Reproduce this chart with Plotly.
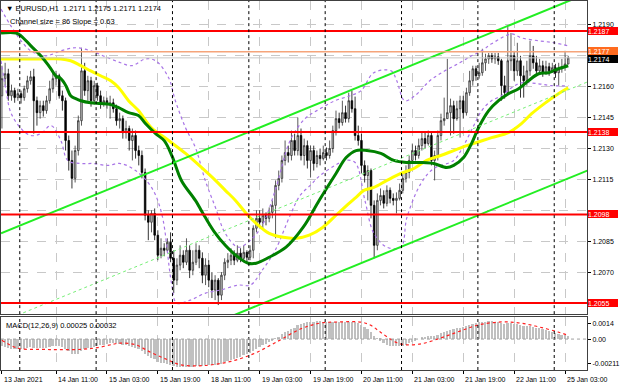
import plotly.graph_objects as go
import pandas as pd

# ---------------- data ----------------
times = pd.date_range("2021-01-13 18:00", "2021-01-25 04:00", freq="h")
times = times[times.dayofweek < 5]
idx = list(range(len(times)))

close = [1.21639,1.21663,1.21556,1.21581,1.21547,1.21566,1.21547,1.21590,1.21629,1.21648,
         1.21532,1.21474,1.21508,1.21484,1.21532,1.21590,1.21639,1.21653,1.21556,1.21532,
         1.21339,1.21242,1.21155,1.21290,1.21435,1.21677,1.21581,1.21629,1.21532,1.21605,
         1.21556,1.21518,1.21532,1.21513,1.21522,1.21493,1.21435,1.21445,1.21377,1.21397,
         1.21339,1.21363,1.21290,1.21266,1.21184,1.20976,1.20942,1.20985,1.20879,1.20782,
         1.20816,1.20806,1.20845,1.20767,1.20661,1.20734,1.20782,1.20748,1.20806,1.20709,
         1.20748,1.20806,1.20767,1.20685,1.20734,1.20661,1.20613,1.20661,1.20588,1.20685,
         1.20748,1.20758,1.20782,1.20758,1.20792,1.20767,1.20796,1.20772,1.20806,1.20913,
         1.20961,1.20942,1.20976,1.20961,1.20990,1.21024,1.21121,1.21155,1.21242,1.21280,
         1.21266,1.21339,1.21290,1.21363,1.21266,1.21314,1.21242,1.21290,1.21227,1.21266,
         1.21251,1.21280,1.21266,1.21300,1.21387,1.21445,1.21426,1.21474,1.21445,1.21532,
         1.21493,1.21363,1.21339,1.21218,1.21169,1.21193,1.21024,1.20830,1.21048,1.21072,
         1.21034,1.21097,1.21058,1.21048,1.21058,1.21097,1.21155,1.21184,1.21242,1.21290,
         1.21266,1.21314,1.21348,1.21324,1.21363,1.21242,1.21266,1.21363,1.21435,1.21445,
         1.21474,1.21508,1.21445,1.21493,1.21532,1.21474,1.21571,1.21629,1.21687,1.21653,
         1.21668,1.21716,1.21735,1.21750,1.21735,1.21745,1.21726,1.21605,1.21571,1.21726,
         1.21750,1.21677,1.21726,1.21653,1.21629,1.21677,1.21750,1.21716,1.21677,1.21702,
         1.21668,1.21697,1.21677,1.21692,1.21668,1.21687,1.21697,1.21710,1.21740]

open_ = [1.21556,1.21639,1.21663,1.21556,1.21581,1.21547,1.21566,1.21547,1.21590,1.21629,
         1.21648,1.21532,1.21474,1.21508,1.21484,1.21532,1.21590,1.21639,1.21653,1.21556,
         1.21532,1.21339,1.21242,1.21155,1.21290,1.21435,1.21677,1.21581,1.21629,1.21532,
         1.21605,1.21556,1.21518,1.21532,1.21513,1.21522,1.21493,1.21435,1.21445,1.21377,
         1.21397,1.21339,1.21363,1.21290,1.21266,1.21184,1.20976,1.20942,1.20985,1.20879,
         1.20782,1.20816,1.20806,1.20845,1.20767,1.20661,1.20734,1.20782,1.20748,1.20806,
         1.20709,1.20748,1.20806,1.20767,1.20685,1.20734,1.20661,1.20613,1.20661,1.20588,
         1.20685,1.20748,1.20758,1.20782,1.20758,1.20792,1.20767,1.20796,1.20772,1.20806,
         1.20913,1.20961,1.20942,1.20976,1.20961,1.20990,1.21024,1.21121,1.21155,1.21242,
         1.21280,1.21266,1.21339,1.21290,1.21363,1.21266,1.21314,1.21242,1.21290,1.21227,
         1.21266,1.21251,1.21280,1.21266,1.21300,1.21387,1.21445,1.21426,1.21474,1.21445,
         1.21532,1.21493,1.21363,1.21339,1.21218,1.21169,1.21193,1.21024,1.20830,1.21048,
         1.21072,1.21034,1.21097,1.21058,1.21048,1.21058,1.21097,1.21155,1.21184,1.21242,
         1.21290,1.21266,1.21314,1.21348,1.21324,1.21363,1.21242,1.21266,1.21363,1.21435,
         1.21445,1.21474,1.21508,1.21445,1.21493,1.21532,1.21474,1.21571,1.21629,1.21687,
         1.21653,1.21668,1.21716,1.21735,1.21750,1.21735,1.21745,1.21726,1.21605,1.21571,
         1.21726,1.21750,1.21677,1.21726,1.21653,1.21629,1.21677,1.21750,1.21716,1.21677,
         1.21702,1.21668,1.21697,1.21677,1.21692,1.21668,1.21687,1.21697,1.21710]

high = [1.21702,1.21716,1.21687,1.21610,1.21595,1.21590,1.21581,1.21605,1.21653,1.21677,
        1.21687,1.21552,1.21532,1.21532,1.21556,1.21629,1.21668,1.21677,1.21663,1.21581,
        1.21547,1.21363,1.21290,1.21314,1.21460,1.21789,1.21716,1.21653,1.21648,1.21629,
        1.21619,1.21581,1.21552,1.21547,1.21556,1.21542,1.21513,1.21474,1.21460,1.21435,
        1.21411,1.21397,1.21387,1.21314,1.21290,1.21203,1.21000,1.21000,1.21009,1.20903,
        1.20864,1.20840,1.20864,1.20893,1.20806,1.20767,1.20830,1.20806,1.20864,1.20830,
        1.20806,1.20840,1.20830,1.20796,1.20767,1.20758,1.20700,1.20685,1.20671,1.20700,
        1.20767,1.20792,1.20816,1.20806,1.20830,1.20816,1.20830,1.20806,1.20830,1.20927,
        1.21000,1.21000,1.21009,1.20990,1.21014,1.21048,1.21145,1.21193,1.21266,1.21339,
        1.21314,1.21387,1.21372,1.21450,1.21397,1.21348,1.21339,1.21314,1.21314,1.21290,
        1.21300,1.21314,1.21305,1.21339,1.21411,1.21484,1.21474,1.21532,1.21508,1.21571,
        1.21581,1.21552,1.21411,1.21372,1.21242,1.21218,1.21203,1.21048,1.21082,1.21106,
        1.21097,1.21121,1.21111,1.21082,1.21087,1.21130,1.21184,1.21218,1.21266,1.21324,
        1.21314,1.21348,1.21377,1.21377,1.21387,1.21377,1.21290,1.21387,1.21469,1.21547,
        1.21735,1.21542,1.21532,1.21532,1.21556,1.21556,1.21595,1.21677,1.21702,1.21702,
        1.21716,1.21784,1.21760,1.21764,1.21764,1.21764,1.21764,1.21735,1.21653,1.21895,
        1.21861,1.21774,1.21813,1.21750,1.21702,1.21726,1.21823,1.21798,1.21750,1.21735,
        1.21726,1.21726,1.21716,1.21716,1.21711,1.21716,1.21735,1.21774,1.21750]

low = [1.21397,1.21605,1.21532,1.21532,1.21522,1.21532,1.21518,1.21532,1.21571,1.21610,
       1.21372,1.21411,1.21445,1.21455,1.21469,1.21518,1.21571,1.21605,1.21542,1.21484,
       1.21290,1.21193,1.21106,1.21135,1.21266,1.21411,1.21556,1.21532,1.21503,1.21513,
       1.21532,1.21493,1.21503,1.21493,1.21445,1.21474,1.21411,1.21397,1.21348,1.21348,
       1.21290,1.21242,1.21251,1.21218,1.21155,1.20951,1.20855,1.20893,1.20855,1.20758,
       1.20767,1.20777,1.20796,1.20748,1.20598,1.20637,1.20709,1.20719,1.20734,1.20671,
       1.20685,1.20734,1.20719,1.20646,1.20637,1.20627,1.20574,1.20564,1.20540,1.20564,
       1.20661,1.20719,1.20734,1.20734,1.20748,1.20748,1.20748,1.20748,1.20758,1.20767,
       1.20893,1.20913,1.20913,1.20927,1.20942,1.20961,1.20864,1.21097,1.21135,1.21218,
       1.21232,1.21242,1.21266,1.21266,1.21242,1.21218,1.21203,1.21159,1.21193,1.21208,
       1.21218,1.21242,1.21242,1.21251,1.21280,1.21363,1.21397,1.21411,1.21426,1.21426,
       1.21474,1.21339,1.21314,1.21179,1.21135,1.21048,1.20961,1.20767,1.20806,1.21024,
       1.21009,1.21019,1.21034,1.21024,1.20985,1.21048,1.21082,1.21135,1.21155,1.21232,
       1.21242,1.21251,1.21290,1.21300,1.21314,1.21218,1.21145,1.21242,1.21339,1.21411,
       1.21445,1.21363,1.21372,1.21435,1.21353,1.21445,1.21460,1.21556,1.21605,1.21629,
       1.21639,1.21653,1.21677,1.21711,1.21716,1.21711,1.21706,1.21532,1.21542,1.21561,
       1.21677,1.21629,1.21653,1.21547,1.21547,1.21605,1.21653,1.21687,1.21653,1.21668,
       1.21648,1.21658,1.21653,1.21668,1.21643,1.21605,1.21668,1.21677,1.21710]

# moving averages (read at chosen bars)
ma_green_idx = [-0.3,4.4,6,9.1,12.2,15.4,16.9,18.5,20.1,21.6,23.2,24.8,27.9,31,34.2,36.7,39.8,42.9,45.1,48.3,
                51,53.5,56.4,60.8,63.9,67.1,70.2,72.7,74.3,77.4,79.9,84,89.3,94.7,99.7,105,108.2,111.3,114.7,
                119.1,123.2,127.3,131.7,135.7,139.8,142,145.1,147.6,149.8,153,156.1,159.2,162.4,165.5,168.7,
                171.8,174.9,178]
ma_green_val = [1.21861,1.21861,1.21847,1.21798,1.21750,1.21687,1.21653,1.21639,1.21605,1.21556,1.21542,
                1.21532,1.21522,1.21518,1.21513,1.21498,1.21474,1.21460,1.21421,1.21372,1.21338,1.21262,
                1.21145,1.21048,1.20966,1.20888,1.20830,1.20792,1.20772,1.20743,1.20743,1.20772,1.20821,
                1.20918,1.21048,1.21179,1.21256,1.21290,1.21290,1.21276,1.21242,1.21232,1.21232,1.21227,
                1.21208,1.21218,1.21256,1.21324,1.21401,1.21484,1.21532,1.21566,1.21590,1.21629,1.21663,
                1.21668,1.21687,1.21702]
ma_yellow_idx = [-0.3,6,12.2,18.5,21.6,24.8,27.9,31,34.2,36.7,39.8,42.9,47,52.4,57.7,62.7,67.1,70.2,73.4,
                 76.8,79.9,84,88.4,92.5,96.6,100.9,105,109.1,111.3,113.8,116.9,121,125.4,129.5,133.5,137.9,
                 142,146.1,149.2,153.9,159.2,163.3,166.5,170.5,174.9,178]
ma_yellow_val = [1.21735,1.21735,1.21735,1.21735,1.21726,1.21702,1.21677,1.21653,1.21629,1.21595,1.21532,
                 1.21484,1.21401,1.21339,1.21276,1.21208,1.21145,1.21097,1.21048,1.20985,1.20937,1.20888,
                 1.20869,1.20864,1.20879,1.20918,1.20976,1.21034,1.21063,1.21097,1.21111,1.21145,1.21179,
                 1.21203,1.21242,1.21266,1.21290,1.21314,1.21329,1.21353,1.21377,1.21421,1.21469,1.21518,
                 1.21566,1.21595]

# envelope / bands (purple dotted)
band_up_idx = [-0.3,2.8,6,9.1,13.8,18.5,23.2,27.9,32.6,37.3,40.8,45.1,48.3,52.4,54.5,57.7,60.8,63.9,67.1,
               70.2,74.3,78.1,81.8,85.9,90.6,95.3,100,104.7,109.4,112.9,116.9,122.3,124.1,126.6,129.8,
               134.5,139.2,143.9,147.6,150.8,153.9,160.2,163.3,168.7,173.7,178.1]
band_up_val = [1.21977,1.21895,1.21823,1.21774,1.21750,1.21774,1.21789,1.21774,1.21745,1.21716,1.21702,
               1.21735,1.21726,1.21643,1.21532,1.21401,1.21305,1.21145,1.21014,1.20888,1.20821,1.20855,
               1.20927,1.21097,1.21339,1.21445,1.21493,1.21532,1.21556,1.21581,1.21668,1.21677,1.21629,
               1.21532,1.21556,1.21629,1.21677,1.21716,1.21750,1.21774,1.21808,1.21856,1.21837,1.21823,
               1.21813,1.21798]
band_dn_idx = [-0.3,1.3,2.8,6,9.1,12.2,15.4,18.5,20.7,24.8,28.8,33.2,37.3,42,47,50.2,53.3,54.9,59.2,64,
               68.7,74.3,78.1,81.8,85.9,90.6,93.7,96.9,100,104.7,107.8,111,114.1,116.9,121,125.4,127.3,
               131.7,135.7,142,145.1,148.3,150.8,153.9,157,160.2,163.3,168.7,172.7,178.1]
band_dn_val = [1.21726,1.21581,1.21474,1.21397,1.21363,1.21372,1.21411,1.21339,1.21242,1.21227,1.21227,
               1.21218,1.21227,1.21193,1.21111,1.20985,1.20646,1.20550,1.20564,1.20598,1.20613,1.20637,
               1.20637,1.20709,1.20806,1.20976,1.21072,1.21121,1.21169,1.21218,1.21242,1.21232,1.21048,
               1.20888,1.20821,1.20821,1.20966,1.21130,1.21203,1.21242,1.21314,1.21411,1.21484,1.21532,
               1.21556,1.21595,1.21619,1.21614,1.21605,1.21605]

# regression channel: value at first bar, slope per bar, width
chan_start = 1.20890
chan_slope = 0.0000632
chan_size = 0.0086

red_levels = [1.2187, 1.2138, 1.2098, 1.2055]
orange_level = 1.2177
bid_level = 1.2174

macd = [-0.00065,-0.00072,-0.00080,-0.00085,-0.00088,-0.00090,-0.00088,-0.00085,-0.00080,-0.00075,
        -0.00078,-0.00082,-0.00082,-0.00080,-0.00078,-0.00072,-0.00066,-0.00062,-0.00066,-0.00072,
        -0.00090,-0.00110,-0.00128,-0.00135,-0.00128,-0.00105,-0.00092,-0.00082,-0.00078,-0.00068,
        -0.00060,-0.00055,-0.00050,-0.00045,-0.00040,-0.00038,-0.00040,-0.00042,-0.00050,-0.00055,
        -0.00065,-0.00072,-0.00082,-0.00092,-0.00105,-0.00130,-0.00150,-0.00165,-0.00180,-0.00198,
        -0.00208,-0.00215,-0.00220,-0.00228,-0.00240,-0.00246,-0.00248,-0.00250,-0.00248,-0.00250,
        -0.00246,-0.00240,-0.00236,-0.00236,-0.00232,-0.00232,-0.00232,-0.00228,-0.00228,-0.00220,
        -0.00205,-0.00195,-0.00185,-0.00175,-0.00165,-0.00155,-0.00145,-0.00135,-0.00125,-0.00105,
        -0.00085,-0.00070,-0.00055,-0.00042,-0.00030,-0.00018,0.00002,0.00020,0.00040,0.00058,
        0.00072,0.00088,0.00098,0.00120,0.00130,0.00138,0.00145,0.00150,0.00152,0.00155,
        0.00155,0.00152,0.00150,0.00148,0.00148,0.00150,0.00150,0.00150,0.00150,0.00152,
        0.00150,0.00150,0.00140,0.00122,0.00102,0.00085,0.00060,0.00025,0.00005,-0.00015,
        -0.00040,-0.00050,-0.00058,-0.00062,-0.00065,-0.00062,-0.00058,-0.00050,-0.00040,-0.00028,
        -0.00015,0.00000,0.00010,0.00018,0.00025,0.00025,0.00028,0.00038,0.00050,0.00060,
        0.00070,0.00078,0.00085,0.00092,0.00100,0.00105,0.00115,0.00125,0.00135,0.00140,
        0.00145,0.00150,0.00152,0.00154,0.00154,0.00152,0.00150,0.00140,0.00130,0.00138,
        0.00140,0.00135,0.00135,0.00125,0.00115,0.00110,0.00112,0.00108,0.00100,0.00092,
        0.00085,0.00078,0.00070,0.00062,0.00055,0.00045,0.00038,0.00032,0.00025]
signal_idx = [0,5,12,18,25,30,35,37,42,47,52,56,61,66,72,79,86,94,100,106,113,116,119,124,127,132,138,
              144,150,157,163,169,175,178]
signal_val = [-0.00010,-0.00080,-0.00090,-0.00092,-0.00090,-0.00075,-0.00045,-0.00035,-0.00050,-0.00120,
              -0.00180,-0.00225,-0.00235,-0.00225,-0.00195,-0.00130,-0.00030,0.00090,0.00140,0.00150,
              0.00148,0.00120,0.00060,-0.00030,-0.00050,-0.00040,0.00010,0.00070,0.00125,0.00150,
              0.00140,0.00105,0.00060,0.00032]

tick_idx = [0, 17, 33, 49, 65, 81, 97, 113, 129, 145, 161, 177]
tick_text = ["13 Jan 2021"] + [times[i].strftime("%d %b %H:%M") for i in tick_idx[1:]]
day_starts = [i for i, t in enumerate(times) if t.hour == 0]

price_ticks = [1.2055 + 0.0015 * k for k in range(10)]
# scale labels that sit under a level box are hidden by it in the original
hidden_ticks = ["1.2055", "1.2100", "1.2175"]
price_tick_text = [("" if f"{v:.4f}" in hidden_ticks else f"{v:.4f}") for v in price_ticks]

# ---------------- figure ----------------
FONT = "Liberation Sans, Arial, sans-serif"
fig = go.Figure()

fig.add_trace(go.Candlestick(
    x=idx, open=open_, high=high, low=low, close=close,
    increasing=dict(line=dict(color="#303030", width=0.8), fillcolor="#cfcfcf"),
    decreasing=dict(line=dict(color="#000000", width=0.8), fillcolor="#000000"),
    whiskerwidth=0, showlegend=False, xaxis="x", yaxis="y"))

for bi, bv in [(band_up_idx, band_up_val), (band_dn_idx, band_dn_val)]:
    fig.add_trace(go.Scatter(x=bi, y=bv, mode="lines",
                             line=dict(color="#a874e6", width=1.2, dash="dot", shape="spline"),
                             showlegend=False, xaxis="x", yaxis="y"))

fig.add_trace(go.Scatter(x=ma_yellow_idx, y=ma_yellow_val, mode="lines",
                         line=dict(color="#ffff00", width=3, shape="spline"), showlegend=False, xaxis="x", yaxis="y"))
fig.add_trace(go.Scatter(x=ma_green_idx, y=ma_green_val, mode="lines",
                         line=dict(color="#008000", width=3, shape="spline"), showlegend=False, xaxis="x", yaxis="y"))

# regression channel
cx = [-0.3, 184]
up = [chan_start + chan_slope * v for v in cx]
fig.add_trace(go.Scatter(x=cx, y=up, mode="lines", line=dict(color="#22ee22", width=2),
                         showlegend=False, xaxis="x", yaxis="y"))
fig.add_trace(go.Scatter(x=cx, y=[v - chan_size / 2 for v in up], mode="lines",
                         line=dict(color="#77ee77", width=1, dash="dot"), showlegend=False, xaxis="x", yaxis="y"))
fig.add_trace(go.Scatter(x=cx, y=[v - chan_size for v in up], mode="lines", line=dict(color="#22ee22", width=2),
                         showlegend=False, xaxis="x", yaxis="y"))

# MACD
fig.add_trace(go.Bar(x=idx, y=macd, marker=dict(color="#c0c0c0", line=dict(width=0)), width=0.55,
                     showlegend=False, xaxis="x2", yaxis="y2"))
fig.add_trace(go.Scatter(x=signal_idx, y=signal_val, mode="lines",
                         line=dict(color="#ff2020", width=1.2, dash="dot", shape="spline"),
                         showlegend=False, xaxis="x2", yaxis="y2"))

shapes = []
for lv in red_levels:
    shapes.append(dict(type="line", xref="x domain", yref="y", x0=0, x1=1, y0=lv, y1=lv,
                       line=dict(color="#ff0000", width=2)))
shapes.append(dict(type="line", xref="x domain", yref="y", x0=0, x1=1, y0=orange_level, y1=orange_level,
                   line=dict(color="#f5a47a", width=1.5)))
shapes.append(dict(type="line", xref="x domain", yref="y", x0=0, x1=1, y0=bid_level, y1=bid_level,
                   line=dict(color="#c8c8c8", width=1)))
for d in day_starts:
    for ax in ["y", "y2"]:
        shapes.append(dict(type="line", xref="x", yref=ax + " domain", x0=d - 0.4, x1=d - 0.4, y0=0, y1=1,
                           line=dict(color="#000000", width=1, dash="dot")))
shapes.append(dict(type="line", xref="x2 domain", yref="y2", x0=0, x1=1, y0=0, y1=0,
                   line=dict(color="#a0a0a0", width=1, dash="dot")))

ann = []
ann.append(dict(xref="paper", yref="paper", x=0, y=1, xanchor="left", yanchor="top", xshift=3, yshift=-1,
                text="▼ EURUSD,H1  1.2171 1.2175 1.2171 1.2174", showarrow=False,
                font=dict(family=FONT, size=7.5, color="#000000")))
ann.append(dict(xref="paper", yref="paper", x=0, y=1, xanchor="left", yanchor="top", xshift=7, yshift=-14,
                text="Channel size = 86 Slope = 0.63", showarrow=False,
                font=dict(family=FONT, size=7.5, color="#000000")))
ann.append(dict(xref="paper", yref="y2 domain", x=0, y=1, xanchor="left", yanchor="top", xshift=3, yshift=-2,
                text="MACD(12,26,9) 0.00025 0.00032", showarrow=False,
                font=dict(family=FONT, size=7.5, color="#000000")))
for ti, tt in zip(tick_idx, tick_text):
    ann.append(dict(xref="x2", yref="paper", x=ti, y=0, xanchor="left", yanchor="top", xshift=0, yshift=-4,
                    text=tt, showarrow=False, font=dict(family=FONT, size=7, color="#000000")))
box_levels = [(l, "#ff0000", 0) for l in red_levels] + [(orange_level, "#ff6b1f", 1), (bid_level, "#000000", -1)]
for lv, col, ys in box_levels:
    ann.append(dict(xref="paper", yref="y", x=1, y=lv, xanchor="left", yanchor="middle", xshift=1, yshift=ys,
                    text=f"{lv:.4f}", showarrow=False, bgcolor=col, borderpad=0, borderwidth=0,
                    width=30, height=8, align="left", valign="middle",
                    font=dict(family=FONT, size=7, color="#ffffff")))

fig.update_layout(
    width=620, height=388, margin=dict(l=0, r=32, t=0, b=18),
    paper_bgcolor="white", plot_bgcolor="white",
    font=dict(family=FONT, size=7, color="#000000"),
    showlegend=False, bargap=0, shapes=shapes, annotations=ann,
    xaxis=dict(domain=[0, 1], range=[-0.3, 183.9], anchor="y", rangeslider=dict(visible=False),
               tickvals=tick_idx, showticklabels=False, ticks="", showgrid=True, gridcolor="#c8c8c8",
               griddash="dash", gridwidth=1, showline=True, mirror=True, linecolor="#404040", linewidth=1,
               zeroline=False),
    yaxis=dict(domain=[0.1514, 1], range=[1.20496, 1.22016], side="right", anchor="x",
               tickvals=price_ticks, ticktext=price_tick_text, ticks="outside", ticklen=3,
               tickcolor="#000000", tickfont=dict(size=7), showgrid=True, gridcolor="#c8c8c8", griddash="dash",
               showline=True, mirror=True, linecolor="#404040", linewidth=1, zeroline=False),
    xaxis2=dict(domain=[0, 1], range=[-0.3, 183.9], anchor="y2", matches="x",
                tickvals=tick_idx, showticklabels=False, ticks="outside", ticklen=3, tickcolor="#000000",
                showgrid=True, gridcolor="#c8c8c8", griddash="dash", showline=True, mirror=True,
                linecolor="#404040", linewidth=1, zeroline=False),
    yaxis2=dict(domain=[0, 0.1432], range=[-0.00271, 0.00192], side="right", anchor="x2",
                tickvals=[0.0014, 0.0, -0.00211], ticktext=["0.0014", "0.00", "-0.00211"], ticks="outside",
                ticklen=3, tickcolor="#000000", tickfont=dict(size=7), showgrid=False, showline=True, mirror=True,
                linecolor="#404040", linewidth=1, zeroline=False),
)

fig.write_html("out.html", config=dict(displayModeBar=False))
